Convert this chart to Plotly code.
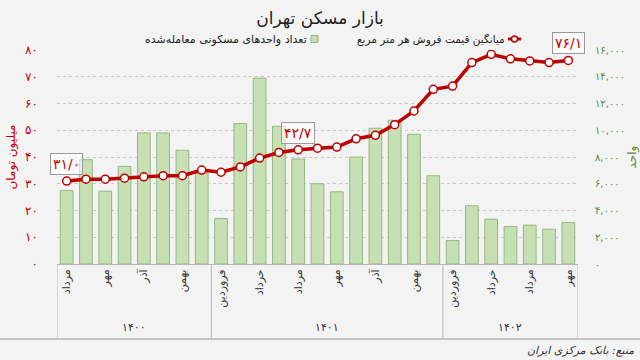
import plotly.graph_objects as go

FA = str.maketrans("0123456789", "۰۱۲۳۴۵۶۷۸۹")
def fa(s):
    return str(s).translate(FA)

months = ["مرداد", "شهریور", "مهر", "آبان", "آذر", "دی", "بهمن", "اسفند",
          "فروردین", "اردیبهشت", "خرداد", "تیر", "مرداد", "شهریور", "مهر", "آبان", "آذر", "دی", "بهمن", "اسفند",
          "فروردین", "اردیبهشت", "خرداد", "تیر", "مرداد", "شهریور", "مهر"]
years = ["1400", "1401", "1402"]
year_sizes = [8, 12, 7]

price = [31.0, 31.7, 31.7, 32.1, 32.6, 33.0, 33.0, 35.1, 34.3, 36.3, 39.6, 41.7, 42.7, 43.3, 43.7,
         46.8, 48.1, 52.1, 57.2, 65.3, 66.5, 75.3, 78.4, 76.7, 75.9, 75.3, 76.1]
units = [5500, 7800, 5450, 7300, 9800, 9800, 8500, 6800, 3400, 10500, 13900, 10300, 7850, 6000, 5400,
         8000, 10150, 10750, 9700, 6600, 1750, 4350, 3350, 2800, 2900, 2600, 3100]
labeled_points = [0, 12, 26]

left_ticks = [0, 10, 20, 30, 40, 50, 60, 70, 80]
right_ticks = [0, 2000, 4000, 6000, 8000, 10000, 12000, 14000, 16000]

x = list(range(len(months)))
RED = "#bd0000"
GREEN = "#5b8c3e"
FONT = "DejaVu Sans"

L, R, T, B = 57, 62, 50, 96
PW, PH = 640 - L - R, 360 - T - B
def pxx(p):
    return (p - L) / PW
def pxy(p):
    return (360 - B - p) / PH

fig = go.Figure()
fig.add_trace(go.Bar(x=x, y=units, yaxis="y", marker=dict(color="#c6e0b4", line=dict(color="#93b983", width=1)),
                     width=0.66, name="تعداد واحدهای مسکونی معامله‌شده", showlegend=False))
fig.add_trace(go.Scatter(x=x, y=price, yaxis="y2", mode="lines+markers",
                         line=dict(color=RED, width=3.5),
                         marker=dict(size=8, color="white", line=dict(color=RED, width=1.5)),
                         name="میانگین قیمت فروش هر متر مربع", showlegend=False))

annotations = []
for i in labeled_points:
    annotations.append(dict(x=x[i], y=price[i], xref="x", yref="y2", text=fa(f"{price[i]:.1f}").replace(".", "/"),
                            showarrow=False, yanchor="bottom", yshift=6,
                            font=dict(family=FONT, size=14, color=RED),
                            bgcolor="rgba(255,255,255,0.6)", bordercolor="#9a9a9a", borderwidth=1, borderpad=2))

shapes = []
start = 0
for yname, n in zip(years, year_sizes):
    center = start + (n - 1) / 2
    annotations.append(dict(x=center, y=pxy(327), xref="x", yref="paper", yanchor="middle", text=fa(yname),
                            showarrow=False, font=dict(family=FONT, size=11, color="#333")))
    shapes.append(dict(type="line", xref="x", yref="paper", x0=start - 0.5, x1=start - 0.5,
                       y0=0, y1=pxy(338), line=dict(color="#b5b5b5", width=1)))
    start += n
shapes.append(dict(type="line", xref="x", yref="paper", x0=start - 0.5, x1=start - 0.5,
                   y0=0, y1=pxy(338), line=dict(color="#b5b5b5", width=1)))
shapes.append(dict(type="line", xref="paper", yref="paper", x0=pxx(0), x1=pxx(640),
                   y0=pxy(339), y1=pxy(339), line=dict(color="#c4c4c4", width=2)))

# custom RTL legend
shapes.append(dict(type="line", xref="paper", yref="paper", x0=pxx(508), x1=pxx(521), y0=pxy(39), y1=pxy(39),
                   line=dict(color=RED, width=3)))
shapes.append(dict(type="circle", xref="paper", yref="paper", x0=pxx(511.5), x1=pxx(517.5), y0=pxy(36), y1=pxy(42),
                   fillcolor="white", line=dict(color=RED, width=1.5)))
annotations.append(dict(x=pxx(507), y=pxy(39), xref="paper", yref="paper", xanchor="right", yanchor="middle",
                        showarrow=False, text="میانگین قیمت فروش هر متر مربع",
                        font=dict(family=FONT, size=10.5, color="#222")))
shapes.append(dict(type="rect", xref="paper", yref="paper", x0=pxx(311), x1=pxx(318), y0=pxy(35.5), y1=pxy(42.5),
                   fillcolor="#c6e0b4", line=dict(color="#93b983", width=1)))
annotations.append(dict(x=pxx(309), y=pxy(39), xref="paper", yref="paper", xanchor="right", yanchor="middle",
                        showarrow=False, text="تعداد واحدهای مسکونی معامله‌شده",
                        font=dict(family=FONT, size=11, color="#222")))
annotations.append(dict(x=pxx(636), y=pxy(350), xref="paper", yref="paper", xanchor="right", yanchor="middle",
                        showarrow=False, text="<i>منبع: بانک مرکزی ایران</i>",
                        font=dict(family=FONT, size=11, color="#333")))

fig.update_layout(
    width=640, height=360,
    margin=dict(l=L, r=R, t=T, b=B, autoexpand=False),
    paper_bgcolor="#f3f3f3", plot_bgcolor="#f3f3f3",
    font=dict(family=FONT),
    title=dict(text="بازار مسکن تهران", x=0.5, xanchor="center", y=1 - 18 / 360, yref="container", yanchor="middle",
               font=dict(family=FONT, size=17, color="#222")),
    bargap=0.34,
    xaxis=dict(range=[-0.5, len(months) - 0.5], tickmode="array", tickvals=x[::2], ticktext=months[::2],
               tickangle=-90, showgrid=False, zeroline=False, showline=True, linecolor="#b5b5b5", linewidth=1,
               ticks="", automargin=False, tickfont=dict(family=FONT, size=11, color="#333")),
    yaxis=dict(side="right", range=[0, 16000], tickmode="array", tickvals=right_ticks, automargin=False,
               ticktext=[fa(f"{v:,}") for v in right_ticks], tickfont=dict(family=FONT, size=10, color=GREEN),
               showgrid=True, gridcolor="#c8c8c8", griddash="dot", zeroline=False, ticklabelstandoff=16,
               title=dict(text="واحد", font=dict(family=FONT, size=12, color=GREEN), standoff=10)),
    yaxis2=dict(side="left", overlaying="y", range=[0, 80], tickmode="array", tickvals=left_ticks, automargin=False,
                ticktext=[fa(v) for v in left_ticks], tickfont=dict(family=FONT, size=12, color=RED),
                showgrid=False, zeroline=False, ticklabelstandoff=18,
                title=dict(text="میلیون تومان", font=dict(family=FONT, size=12, color=RED), standoff=6)),
    annotations=annotations, shapes=shapes,
)

fig.write_html("out.html", config={"displayModeBar": False},
               post_script="document.body.style.margin='0';document.body.style.overflow='hidden';")
